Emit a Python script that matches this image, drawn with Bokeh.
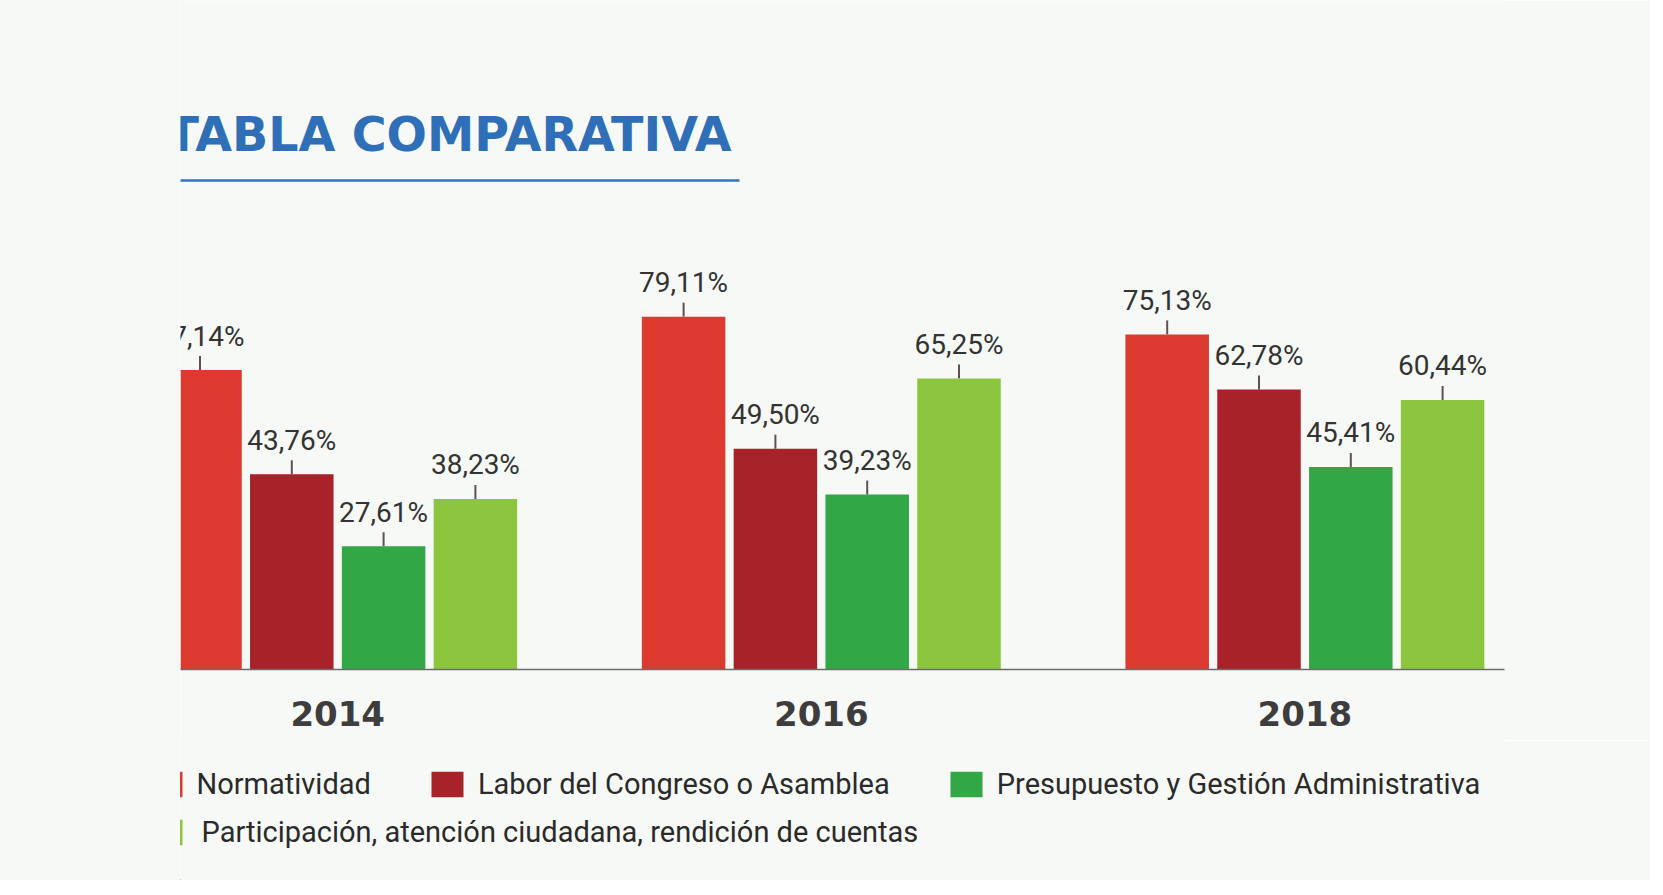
from bokeh.plotting import figure
from bokeh.models import Range1d, FixedTicker, Legend, LegendItem, Spacer
from bokeh.layouts import row, column
from bokeh.core.properties import value
from bokeh.embed import file_html
from bokeh.resources import INLINE

# ---------------- data ----------------
TITLE = "TABLA COMPARATIVA"
years = ["2014", "2016", "2018"]
series = [
    "Normatividad",
    "Labor del Congreso o Asamblea",
    "Presupuesto y Gestión Administrativa",
    "Participación, atención ciudadana, rendición de cuentas",
]
normatividad = [67.14, 79.11, 75.13]
labor = [43.76, 49.50, 62.78]
presupuesto = [27.61, 39.23, 45.41]
participacion = [38.23, 65.25, 60.44]
colors = ["#dc3a2e", "#a8222a", "#31a845", "#8cc63f"]

# ---------------- geometry (screen px -> data) ----------------
BG = "#f7f9f6"
SPACER_W = 180            # canvas starts at page x 180
FIG_W = 1470
FIG1_H, FIG2_H = 740, 140
FRAME_W, FRAME_H = 1324, 669
PPU_X = 483.6             # px per group
PPU_Y = 4.46              # px per percent
X0 = -157.2 / PPU_X
X1 = X0 + FRAME_W / PPU_X
Y1 = FRAME_H / PPU_Y
PITCH = 91.8 / PPU_X
BAR_W = 83.5 / PPU_X

def xc(px):   # canvas px -> data x
    return X0 + px / PPU_X

def yc(page_y):  # page px -> data y (frame bottom at page 669)
    return (669 - page_y) / PPU_Y

p = figure(width=FIG_W, height=FIG1_H, x_range=Range1d(X0, X1), y_range=Range1d(0, Y1),
           min_border_left=0, min_border_right=FIG_W - FRAME_W, min_border_top=0,
           min_border_bottom=FIG1_H - FRAME_H, output_backend="svg", toolbar_location=None,
           y_axis_location=None)
p.background_fill_color = BG
p.border_fill_color = BG
p.outline_line_color = None
p.xgrid.visible = False
p.ygrid.visible = False

all_vals = [normatividad, labor, presupuesto, participacion]
offsets = [-1.5, -0.5, 0.5, 1.5]
for vals, off, col in zip(all_vals, offsets, colors):
    xs = [i + off * PITCH for i in range(len(years))]
    tick_top = [v + 14 / PPU_Y for v in vals]
    p.segment(x0=xs, y0=vals, x1=xs, y1=tick_top, line_color="#5e5250", line_width=2)
    p.vbar(x=xs, top=vals, width=BAR_W, bottom=0, fill_color=col, line_color=None)
    labels = [f"{v:.2f}".replace(".", ",") + "%" for v in vals]
    p.text(x=xs, y=vals, text=labels, y_offset=-34, text_align="center",
           text_baseline="alphabetic", text_font=value("Roboto"), text_font_size="28px",
           text_color="#333333")

# title and underline
p.text(x=[xc(-14)], y=[yc(133.5)], text=[TITLE], text_font=value("DejaVu Sans"),
       text_font_style="bold", text_font_size="47.5px", text_color="#2f6fb8",
       text_align="left", text_baseline="alphabetic")
p.segment(x0=[xc(-2)], y0=[yc(180)], x1=[xc(559)], y1=[yc(180)], line_color="#3574bd",
          line_width=2.5)

# x axis
p.xaxis.ticker = FixedTicker(ticks=list(range(len(years))))
p.xaxis.major_label_overrides = {i: y for i, y in enumerate(years)}
p.xaxis.axis_line_color = "#6b6b6b"
p.xaxis.axis_line_width = 1.5
p.xaxis.major_tick_line_color = None
p.xaxis.minor_tick_line_color = None
p.xaxis.major_label_standoff = 25
p.xaxis.major_label_text_font = "DejaVu Sans"
p.xaxis.major_label_text_font_style = "bold"
p.xaxis.major_label_text_font_size = "34px"
p.xaxis.major_label_text_color = "#3d3d3d"

# ---------------- legend figure ----------------
q = figure(width=FIG_W, height=FIG2_H, x_range=Range1d(0, FIG_W), y_range=Range1d(0, FIG2_H),
           min_border=0, output_backend="svg", toolbar_location=None,
           x_axis_location=None, y_axis_location=None)
q.background_fill_color = BG
q.border_fill_color = BG
q.outline_line_color = None
q.xgrid.visible = False
q.ygrid.visible = False
# legend proxies: one bar per series, placed outside the visible range
swatches = [q.vbar(x=[-10000], top=[1], width=1, fill_color=c, line_color=None) for c in colors]

def make_legend(items, loc, standoff, spacing):
    return Legend(items=items, location=loc, orientation="horizontal",
                  glyph_width=40, glyph_height=32, label_standoff=standoff,
                  spacing=spacing, padding=0, margin=0, label_height=34,
                  label_text_font="Roboto", label_text_font_size="29px",
                  label_text_color="#2a2a2a", background_fill_alpha=0,
                  border_line_color=None)

leg1 = make_legend([LegendItem(label=series[i], renderers=[swatches[i]]) for i in range(3)],
                   (-34.5, 79), 11, 56)
leg2 = make_legend([LegendItem(label=series[3], renderers=[swatches[3]])],
                   (-34.5, 31.5), 16, 56)
q.add_layout(leg1)
q.add_layout(leg2)

layout = row(Spacer(width=SPACER_W, height=FIG1_H + FIG2_H, styles={"background-color": BG}),
             column(p, q))
open("out.html", "w").write(file_html(layout, INLINE))
